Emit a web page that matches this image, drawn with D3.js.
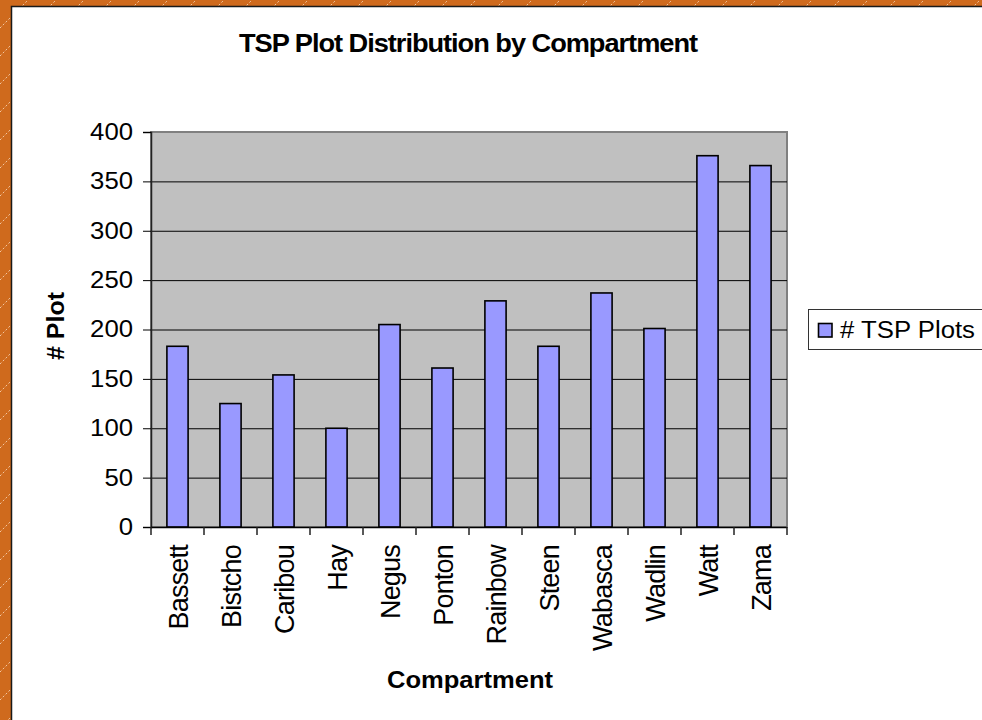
<!DOCTYPE html>
<html>
<head>
<meta charset="utf-8">
<script src="https://cdn.jsdelivr.net/npm/d3@7"></script>
<style>
  body { margin: 0; background: #fff; }
  svg { display: block; font-family: "Liberation Sans", Arial, sans-serif; }
</style>
</head>
<body>
<script>
// chart data
const compartments = ["Bassett", "Bistcho", "Caribou", "Hay", "Negus", "Ponton",
    "Rainbow", "Steen", "Wabasca", "Wadlin", "Watt", "Zama"];
const tspPlots = [183, 125, 154, 100, 205, 161, 229, 183, 237, 201, 376, 366];
const yTicks = [0, 50, 100, 150, 200, 250, 300, 350, 400];
const seriesName = "# TSP Plots";

const width = 982, height = 720;
const plot = { left: 151, right: 787, top: 132, bottom: 527 };

const svg = d3.select("body").append("svg")
    .attr("width", width)
    .attr("height", height);

// orange frame with faint diagonal texture
const defs = svg.append("defs");
const pat = defs.append("pattern")
    .attr("id", "frame")
    .attr("patternUnits", "userSpaceOnUse")
    .attr("width", 28).attr("height", 28);
pat.append("rect").attr("width", 28).attr("height", 28).attr("fill", "#cf6a1d");
pat.append("line")
    .attr("x1", 0).attr("y1", 28).attr("x2", 28).attr("y2", 0)
    .attr("stroke", "#f3c9a4").attr("stroke-width", 1)
    .attr("stroke-dasharray", "2,2");

svg.append("rect").attr("width", width).attr("height", height).attr("fill", "url(#frame)");
svg.append("rect").attr("x", 12).attr("y", 7)
    .attr("width", width - 12).attr("height", height - 7)
    .attr("fill", "#fff");
svg.append("path")
    .attr("d", `M11.5,${height} L11.5,6.5 L${width},6.5`)
    .attr("fill", "none").attr("stroke", "#1a1a1a").attr("stroke-width", 1.5);

// scales
const x = d3.scaleBand()
    .domain(compartments)
    .range([plot.left, plot.right])
    .paddingInner(0.6)
    .paddingOuter(0.3);

const y = d3.scaleLinear()
    .domain([0, 400])
    .range([plot.bottom, plot.top]);

// plot area
svg.append("rect")
    .attr("x", plot.left).attr("y", plot.top)
    .attr("width", plot.right - plot.left).attr("height", plot.bottom - plot.top)
    .attr("fill", "#c0c0c0")
    .attr("stroke", "#808080").attr("stroke-width", 2);

// gridlines
svg.append("g")
    .selectAll("line")
    .data(yTicks.filter(d => d > 0 && d < 400))
    .enter().append("line")
    .attr("x1", plot.left).attr("x2", plot.right)
    .attr("y1", d => y(d) + 0.5).attr("y2", d => y(d) + 0.5)
    .attr("stroke", "#000").attr("stroke-width", 1);

// bars
svg.append("g")
    .selectAll("rect")
    .data(tspPlots)
    .enter().append("rect")
    .attr("x", (d, i) => x(compartments[i]))
    .attr("y", d => y(d))
    .attr("width", x.bandwidth())
    .attr("height", d => y(0) - y(d))
    .attr("fill", "#9999ff")
    .attr("stroke", "#000")
    .attr("stroke-width", 1.6);

// y axis
const yAxis = svg.append("g")
    .attr("transform", `translate(${plot.left},0)`)
    .call(d3.axisLeft(y).tickValues(yTicks).tickSize(8).tickPadding(10));
yAxis.select(".domain").attr("stroke", "#222").attr("stroke-width", 1.5);
yAxis.selectAll(".tick line").attr("stroke", "#000");
yAxis.selectAll("text")
    .attr("font-size", 23)
    .attr("fill", "#000")
    .attr("textLength", d => String(d).length * 14.3)
    .attr("lengthAdjust", "spacingAndGlyphs");

// x axis: ticks sit on the category boundaries
const step = x.step();
const bounds = d3.range(compartments.length + 1).map(i => plot.left + i * step);
svg.append("line")
    .attr("x1", plot.left).attr("x2", plot.right)
    .attr("y1", plot.bottom + 0.5).attr("y2", plot.bottom + 0.5)
    .attr("stroke", "#000").attr("stroke-width", 1.5);
svg.append("g")
    .selectAll("line")
    .data(bounds)
    .enter().append("line")
    .attr("x1", d => d).attr("x2", d => d)
    .attr("y1", plot.bottom).attr("y2", plot.bottom + 8)
    .attr("stroke", "#222").attr("stroke-width", 1.5);

svg.append("g")
    .selectAll("text")
    .data(compartments)
    .enter().append("text")
    .attr("transform", d => `translate(${x(d) + x.bandwidth() / 2 + 10},${plot.bottom + 18}) rotate(-90)`)
    .attr("text-anchor", "end")
    .attr("font-size", 27)
    .attr("letter-spacing", -0.8)
    .attr("fill", "#000")
    .text(d => d);

// titles
const cx = (plot.left + plot.right) / 2;
svg.append("text")
    .attr("x", cx - 1).attr("y", 52)
    .attr("text-anchor", "middle")
    .attr("font-size", 26).attr("font-weight", "bold")
    .attr("letter-spacing", -1)
    .attr("textLength", 458).attr("lengthAdjust", "spacingAndGlyphs")
    .text("TSP Plot Distribution by Compartment");

svg.append("text")
    .attr("x", cx + 1).attr("y", 688)
    .attr("text-anchor", "middle")
    .attr("font-size", 23).attr("font-weight", "bold")
    .attr("textLength", 166).attr("lengthAdjust", "spacingAndGlyphs")
    .text("Compartment");

svg.append("text")
    .attr("transform", "translate(64,326) rotate(-90)")
    .attr("text-anchor", "middle")
    .attr("font-size", 23).attr("font-weight", "bold")
    .attr("textLength", 68).attr("lengthAdjust", "spacingAndGlyphs")
    .text("# Plot");

// legend
const legend = svg.append("g");
legend.append("rect")
    .attr("x", 808.5).attr("y", 309.5)
    .attr("width", 200).attr("height", 40)
    .attr("fill", "#fff").attr("stroke", "#333").attr("stroke-width", 1);
legend.append("rect")
    .attr("x", 818.5).attr("y", 323.5)
    .attr("width", 13.5).attr("height", 13.5)
    .attr("fill", "#9999ff").attr("stroke", "#000").attr("stroke-width", 1.6);
legend.append("text")
    .attr("x", 840).attr("y", 337.5)
    .attr("font-size", 23)
    .attr("textLength", 135).attr("lengthAdjust", "spacingAndGlyphs")
    .text(seriesName);
</script>
</body>
</html>
